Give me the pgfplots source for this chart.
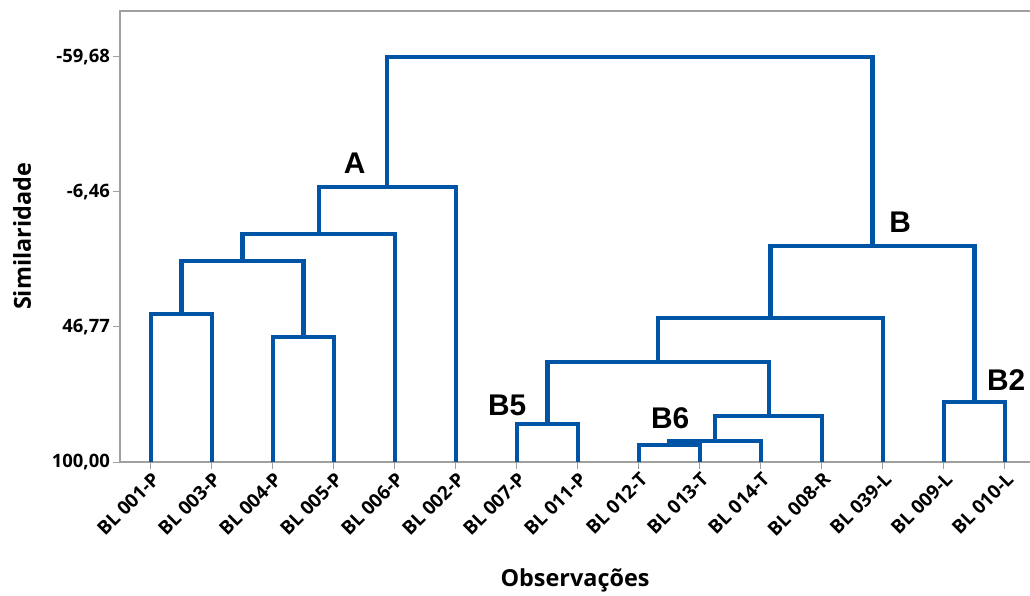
\documentclass[border=0pt]{standalone}
\usepackage{pgfplots}
\pgfplotsset{compat=1.18}
\usepackage{fontspec}
\setmainfont{Open Sans}
\newfontfamily\sbfont{Open Sans Bold}
\newfontfamily\labelfont{Liberation Sans}
\definecolor{dendro}{RGB}{0,84,166}
\definecolor{axgray}{RGB}{160,160,160}

\begin{document}
\begin{tikzpicture}
\useasboundingbox (0,0) rectangle (1030bp,596bp);
\begin{axis}[
  at={(120bp,134bp)}, anchor=south west,
  scale only axis, width=920bp, height=451bp,
  xmin=-0.508, xmax=14.574,
  ymin=-77.8, ymax=100, y dir=reverse,
  axis line style={axgray, line width=1.2bp},
  tick style={axgray, line width=1bp},
  major tick length=7bp,
  tick align=outside, tickpos=left,
  xtick={0,...,14},
  xticklabels={BL 001-P,BL 003-P,BL 004-P,BL 005-P,BL 006-P,BL 002-P,BL 007-P,BL 011-P,BL 012-T,BL 013-T,BL 014-T,BL 008-R,BL 039-L,BL 009-L,BL 010-L},
  xticklabel style={rotate=45, anchor=north east, inner sep=1.5bp,
    font=\sbfont\fontsize{19}{22}\selectfont},
  ytick={-59.68,-6.46,46.77,100},
  yticklabels={{-59,68},{-6,46},{46,77},{100,00}},
  yticklabel style={font=\sbfont\fontsize{18.5}{22}\selectfont, inner sep=3bp},
  xlabel={Observações},
  ylabel={Similaridade},
  xlabel style={font=\sbfont\fontsize{23.5}{26}\selectfont,
    at={(axis description cs:0.4946,-0.2616)}, anchor=center},
  ylabel style={font=\sbfont\fontsize{23.5}{26}\selectfont,
    at={(axis description cs:-0.1065,0.5)}, anchor=center},
  link/.style={dendro, line width=4.2bp, line join=miter, mark=none, solid},
  clip=false,
]
% cluster A
\addplot[link] coordinates {(0,100) (0,41.64) (1,41.64) (1,100)};
\addplot[link] coordinates {(2,100) (2,50.71) (3,50.71) (3,100)};
\addplot[link] coordinates {(0.5,41.64) (0.5,20.74) (2.5,20.74) (2.5,50.71)};
\addplot[link] coordinates {(1.5,20.74) (1.5,10.1) (4,10.1) (4,100)};
\addplot[link] coordinates {(2.75,10.1) (2.75,-8.4) (5,-8.4) (5,100)};
% cluster B
\addplot[link] coordinates {(6,100) (6,85.0) (7,85.0) (7,100)};
\addplot[link] coordinates {(8,100) (8,93.3) (9,93.3) (9,100)};
\addplot[link] coordinates {(8.5,93.3) (8.5,91.7) (10,91.7) (10,100)};
\addplot[link] coordinates {(9.25,91.7) (9.25,81.9) (11,81.9) (11,100)};
\addplot[link] coordinates {(6.5,85.0) (6.5,60.57) (10.125,60.57) (10.125,81.9)};
\addplot[link] coordinates {(8.3125,60.57) (8.3125,43.2) (12,43.2) (12,100)};
\addplot[link] coordinates {(13,100) (13,76.34) (14,76.34) (14,100)};
\addplot[link] coordinates {(10.156,43.2) (10.156,14.8) (13.5,14.8) (13.5,76.34)};
% root
\addplot[link] coordinates {(3.875,-8.4) (3.875,-59.68) (11.828,-59.68) (11.828,14.8)};
% group labels
\begin{scope}[every node/.style={font=\labelfont\bfseries\fontsize{30}{34}\selectfont, inner sep=0pt}]
\node at (axis cs:3.34,-17.9) {A};
\node at (axis cs:12.28,5.36) {B};
\node at (axis cs:14.02,67.7) {B2};
\node at (axis cs:5.84,77.5) {B5};
\node at (axis cs:8.51,82.65) {B6};
\end{scope}
\end{axis}
\end{tikzpicture}
\end{document}
